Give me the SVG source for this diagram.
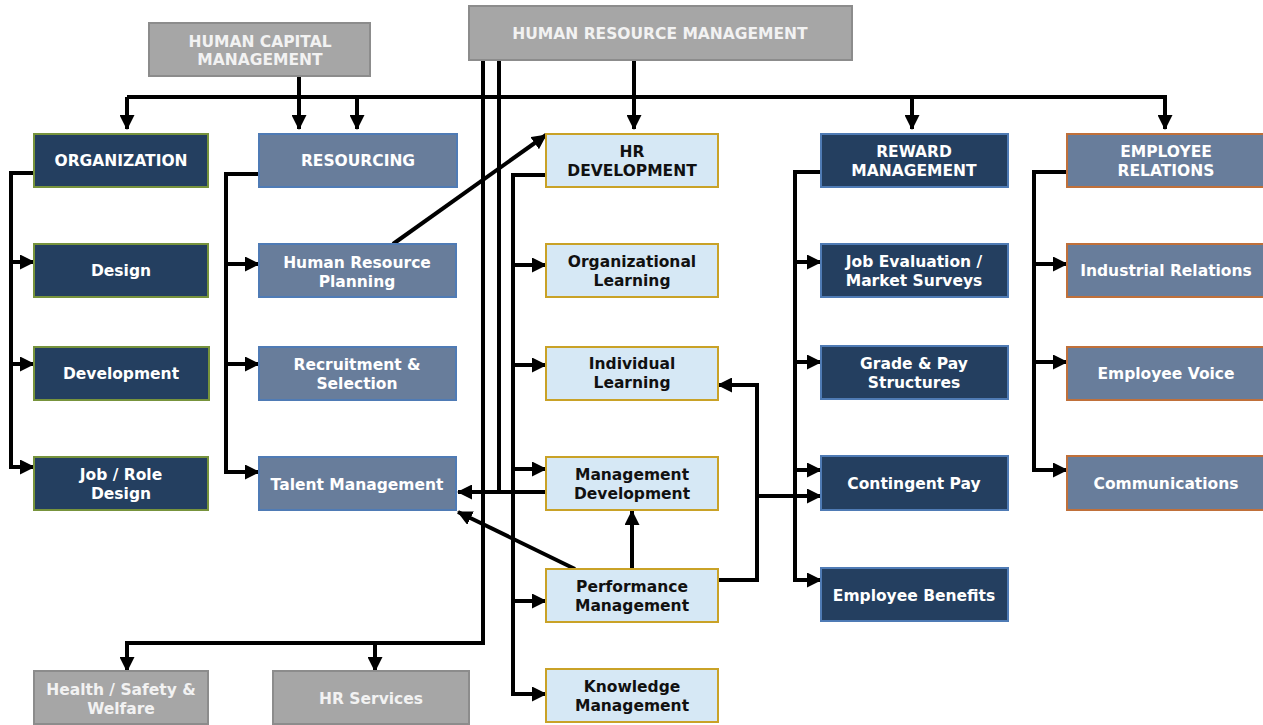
<svg xmlns="http://www.w3.org/2000/svg" width="1263" height="725" viewBox="0 0 1263 725">
<style>
rect{stroke-width:2}
.g{fill:#a6a6a6;stroke:#8c8c8c}
.nv{fill:#243f60}
.sl{fill:#687d9b}
.lb{fill:#d6e8f5;stroke:#c9a227}
.sg{stroke:#77933c}
.sb{stroke:#4f7bb5}
.so{stroke:#c0703a}
text{font-family:"DejaVu Sans","Verdana",sans-serif;font-weight:bold;font-size:15.5px;text-anchor:middle}
.w{fill:#ffffff}
.gt{fill:#f2f2f2}
.k{fill:#111111}
#connectors path{fill:none;stroke:#000;stroke-width:4}
.a{marker-end:url(#ah)}
</style>
<defs>
<marker id="ah" markerUnits="userSpaceOnUse" markerWidth="15" markerHeight="15" refX="14" refY="7.5" orient="auto">
<path d="M0,0 L15,7.5 L0,15 z" fill="#000"/>
</marker>
</defs>
<rect width="1263" height="725" fill="#fff"/>
<g id="connectors">
<path d="M127,97 H1165"/>
<path class="a" d="M299,76 V129"/>
<path class="a" d="M127,97 V129"/>
<path class="a" d="M357,97 V129"/>
<path class="a" d="M634,60 V129"/>
<path class="a" d="M912,97 V129"/>
<path class="a" d="M1165,95 V129"/>
<path class="a" d="M34,173 H11 V467 H34"/>
<path class="a" d="M11,262 H34"/>
<path class="a" d="M11,364 H34"/>
<path class="a" d="M259,174 H226 V472 H259"/>
<path class="a" d="M226,264 H259"/>
<path class="a" d="M226,364 H259"/>
<path class="a" d="M546,175 H513 V694 H546"/>
<path class="a" d="M513,265 H546"/>
<path class="a" d="M513,365 H546"/>
<path class="a" d="M513,469 H546"/>
<path class="a" d="M513,601 H546"/>
<path class="a" d="M821,172 H795 V580 H821"/>
<path class="a" d="M795,262 H821"/>
<path class="a" d="M795,362 H821"/>
<path class="a" d="M795,470 H821"/>
<path class="a" d="M1067,172 H1034 V470 H1067"/>
<path class="a" d="M1034,264 H1067"/>
<path class="a" d="M1034,362 H1067"/>
<path class="a" d="M483,60 V643 H127 V671"/>
<path class="a" d="M375,643 V671"/>
<path d="M499,60 V494"/>
<path class="a" d="M546,492 H458"/>
<path class="a" d="M393,244 L546,135"/>
<path class="a" d="M575,569 L458,512"/>
<path class="a" d="M632,569 V511"/>
<path class="a" d="M718,580 H757 V385 H718"/>
<path class="a" d="M757,496 H821"/>
</g>
<g id="hcm"><rect class="g" x="149" y="23" width="221" height="53"/><text class="gt" x="260" y="47">HUMAN CAPITAL</text><text class="gt" x="260" y="65">MANAGEMENT</text></g>
<g id="hrm"><rect class="g" x="469" y="6" width="383" height="54"/><text class="gt" x="660" y="39">HUMAN RESOURCE MANAGEMENT</text></g>
<g id="organization"><rect class="nv sg" x="34" y="134" width="174" height="53"/><text class="w" x="121" y="166">ORGANIZATION</text></g>
<g id="design"><rect class="nv sg" x="34" y="244" width="174" height="53"/><text class="w" x="121" y="276">Design</text></g>
<g id="development"><rect class="nv sg" x="34" y="347" width="175" height="53"/><text class="w" x="121" y="379">Development</text></g>
<g id="jobrole"><rect class="nv sg" x="34" y="457" width="174" height="53"/><text class="w" x="121" y="480">Job / Role</text><text class="w" x="121" y="499">Design</text></g>
<g id="resourcing"><rect class="sl sb" x="259" y="134" width="198" height="53"/><text class="w" x="358" y="166">RESOURCING</text></g>
<g id="hrp"><rect class="sl sb" x="259" y="244" width="197" height="53"/><text class="w" x="357" y="268">Human Resource</text><text class="w" x="357" y="287">Planning</text></g>
<g id="recruit"><rect class="sl sb" x="259" y="347" width="197" height="53"/><text class="w" x="357" y="370">Recruitment &amp;</text><text class="w" x="357" y="389">Selection</text></g>
<g id="talent"><rect class="sl sb" x="259" y="457" width="197" height="53"/><text class="w" x="357" y="490">Talent Management</text></g>
<g id="hrdev"><rect class="lb" x="546" y="134" width="172" height="53"/><text class="k" x="632" y="157">HR</text><text class="k" x="632" y="176">DEVELOPMENT</text></g>
<g id="orglearn"><rect class="lb" x="546" y="244" width="172" height="53"/><text class="k" x="632" y="267">Organizational</text><text class="k" x="632" y="286">Learning</text></g>
<g id="indlearn"><rect class="lb" x="546" y="347" width="172" height="53"/><text class="k" x="632" y="369">Individual</text><text class="k" x="632" y="388">Learning</text></g>
<g id="mgmtdev"><rect class="lb" x="546" y="457" width="172" height="53"/><text class="k" x="632" y="480">Management</text><text class="k" x="632" y="499">Development</text></g>
<g id="perf"><rect class="lb" x="546" y="569" width="172" height="53"/><text class="k" x="632" y="592">Performance</text><text class="k" x="632" y="611">Management</text></g>
<g id="knowledge"><rect class="lb" x="546" y="669" width="172" height="53"/><text class="k" x="632" y="692">Knowledge</text><text class="k" x="632" y="711">Management</text></g>
<g id="reward"><rect class="nv sb" x="821" y="134" width="187" height="53"/><text class="w" x="914" y="157">REWARD</text><text class="w" x="914" y="176">MANAGEMENT</text></g>
<g id="jobeval"><rect class="nv sb" x="821" y="244" width="187" height="53"/><text class="w" x="914" y="267">Job Evaluation /</text><text class="w" x="914" y="286">Market Surveys</text></g>
<g id="grade"><rect class="nv sb" x="821" y="346" width="187" height="53"/><text class="w" x="914" y="369">Grade &amp; Pay</text><text class="w" x="914" y="388">Structures</text></g>
<g id="contingent"><rect class="nv sb" x="821" y="456" width="187" height="54"/><text class="w" x="914" y="489">Contingent Pay</text></g>
<g id="benefits"><rect class="nv sb" x="821" y="568" width="187" height="53"/><text class="w" x="914" y="601">Employee Benefits</text></g>
<g id="er"><rect class="sl so" x="1067" y="134" width="199" height="53"/><text class="w" x="1166" y="157">EMPLOYEE</text><text class="w" x="1166" y="176">RELATIONS</text></g>
<g id="industrial"><rect class="sl so" x="1067" y="244" width="199" height="53"/><text class="w" x="1166" y="276">Industrial Relations</text></g>
<g id="voice"><rect class="sl so" x="1067" y="347" width="199" height="53"/><text class="w" x="1166" y="379">Employee Voice</text></g>
<g id="comms"><rect class="sl so" x="1067" y="456" width="199" height="54"/><text class="w" x="1166" y="489">Communications</text></g>
<g id="health"><rect class="g" x="34" y="671" width="174" height="53"/><text class="gt" x="121" y="695">Health / Safety &amp;</text><text class="gt" x="121" y="714">Welfare</text></g>
<g id="hrservices"><rect class="g" x="273" y="671" width="196" height="53"/><text class="gt" x="371" y="704">HR Services</text></g>
</svg>
